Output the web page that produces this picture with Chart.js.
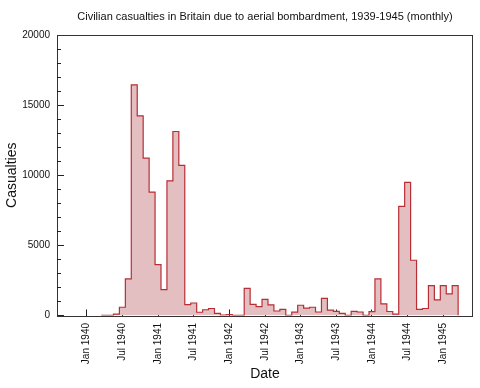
<!DOCTYPE html>
<html>
<head>
<meta charset="utf-8">
<script src="https://cdn.jsdelivr.net/npm/chart.js@4/dist/chart.umd.min.js"></script>
<style>
  html, body { margin: 0; padding: 0; background: #fff; }
  #wrap { width: 480px; height: 388px; }
</style>
</head>
<body>
<div id="wrap"><canvas id="chart"></canvas></div>
<script>
// monthly casualties, Apr 1940 - Mar 1945
const months = [
    'Apr 1940', 'May 1940', 'Jun 1940', 'Jul 1940', 'Aug 1940', 'Sep 1940', 'Oct 1940', 'Nov 1940', 'Dec 1940',
    'Jan 1941', 'Feb 1941', 'Mar 1941', 'Apr 1941', 'May 1941', 'Jun 1941', 'Jul 1941', 'Aug 1941', 'Sep 1941', 'Oct 1941', 'Nov 1941', 'Dec 1941',
    'Jan 1942', 'Feb 1942', 'Mar 1942', 'Apr 1942', 'May 1942', 'Jun 1942', 'Jul 1942', 'Aug 1942', 'Sep 1942', 'Oct 1942', 'Nov 1942', 'Dec 1942',
    'Jan 1943', 'Feb 1943', 'Mar 1943', 'Apr 1943', 'May 1943', 'Jun 1943', 'Jul 1943', 'Aug 1943', 'Sep 1943', 'Oct 1943', 'Nov 1943', 'Dec 1943',
    'Jan 1944', 'Feb 1944', 'Mar 1944', 'Apr 1944', 'May 1944', 'Jun 1944', 'Jul 1944', 'Aug 1944', 'Sep 1944', 'Oct 1944', 'Nov 1944', 'Dec 1944',
    'Jan 1945', 'Feb 1945', 'Mar 1945'
];
const casualties = [
    10, 15, 100, 590, 2610, 16440, 14230, 11220, 8800,
    3630, 1850, 9600, 13120, 10700, 770, 890, 230, 410, 500, 155, 20,
    60, 10, 10, 1940, 800, 630, 1150, 760, 320, 440, 5, 240,
    730, 520, 590, 250, 1220, 390, 300, 155, 5, 290, 250, 5,
    270, 2610, 830, 285, 100, 7780, 9490, 3940, 430, 500, 2135, 1115,
    2135, 1540, 2135
];
const xTickLabels = ['Jan 1940', 'Jul 1940', 'Jan 1941', 'Jul 1941', 'Jan 1942', 'Jul 1942',
    'Jan 1943', 'Jul 1943', 'Jan 1944', 'Jul 1944', 'Jan 1945'];
const xRange = ['Aug 1939', 'Jun 1945'];
const yTicks = [0, 5000, 10000, 15000, 20000];

const monNames = ['Jan', 'Feb', 'Mar', 'Apr', 'May', 'Jun', 'Jul', 'Aug', 'Sep', 'Oct', 'Nov', 'Dec'];
function monthIndex(label) {
    const parts = label.split(' ');
    return (Number(parts[1]) - 1940) * 12 + monNames.indexOf(parts[0]);
}

// histogram-style steps: each month spans half a month either side of its tick
const points = [{ x: monthIndex(months[0]) - 0.5, y: 0 }];
months.forEach((m, i) => points.push({ x: monthIndex(m) - 0.5, y: casualties[i] }));
points.push({ x: monthIndex(months[months.length - 1]) + 0.5, y: 0 });

const FONT = "'Liberation Sans', Arial, Helvetica, sans-serif";

// frame around plot area, drawn under the data
const framePlugin = {
    id: 'frame',
    beforeDatasetsDraw(chart) {
        const a = chart.chartArea, ctx = chart.ctx;
        ctx.save();
        ctx.strokeStyle = '#333';
        ctx.lineWidth = 1;
        ctx.strokeRect(Math.round(a.left) + 0.5, Math.round(a.top) + 0.5,
            Math.round(a.right - a.left) - 1, Math.round(a.bottom - a.top));
        ctx.restore();
    },
    afterDatasetsDraw(chart) {
        // minor ticks on y every 1000
        const y = chart.scales.y, a = chart.chartArea, ctx = chart.ctx;
        ctx.save();
        ctx.strokeStyle = '#222';
        ctx.lineWidth = 1;
        ctx.beginPath();
        for (let v = y.min; v <= y.max; v += 1000) {
            if (v % 5000 === 0) continue;
            const py = Math.round(y.getPixelForValue(v)) + 0.5;
            ctx.moveTo(a.left, py);
            ctx.lineTo(a.left + 4, py);
        }
        ctx.stroke();
        ctx.restore();
    }
};

new Chart(document.getElementById('chart'), {
    type: 'line',
    data: {
        datasets: [{
            data: points,
            stepped: 'before',
            borderColor: 'rgb(185,45,52)',
            borderWidth: 1.2,
            backgroundColor: 'rgb(228,191,193)',
            fill: 'origin',
            pointRadius: 0,
            tension: 0
        }]
    },
    options: {
        responsive: true,
        maintainAspectRatio: false,
        animation: false,
        layout: { padding: { left: 0, right: 7, top: 0, bottom: 0 } },
        plugins: {
            legend: { display: false },
            tooltip: { enabled: false },
            title: {
                display: true,
                fullSize: false,
                text: 'Civilian casualties in Britain due to aerial bombardment, 1939-1945 (monthly)',
                color: '#111',
                font: { family: FONT, size: 11, weight: 'normal' },
                padding: { top: 10, bottom: 11.8 }
            }
        },
        scales: {
            x: {
                type: 'linear',
                z: 1,
                min: monthIndex(xRange[0]),
                max: monthIndex(xRange[1]),
                afterBuildTicks: (scale) => {
                    scale.ticks = xTickLabels.map(l => ({ value: monthIndex(l) }));
                },
                afterFit: (scale) => { scale.height = 72.5; },
                border: { display: false },
                grid: { drawOnChartArea: false, tickLength: -6, tickColor: '#222', tickWidth: 1 },
                ticks: {
                    autoSkip: false,
                    minRotation: 90,
                    maxRotation: 90,
                    padding: 13.5,
                    color: '#111',
                    font: { family: FONT, size: 10 },
                    callback: (v) => {
                        const l = xTickLabels.find(t => monthIndex(t) === v);
                        return l || '';
                    }
                },
                title: {
                    display: true,
                    text: 'Date',
                    color: '#111',
                    font: { family: FONT, size: 14 },
                    padding: { top: 0, bottom: 5.6 }
                }
            },
            y: {
                z: 1,
                min: yTicks[0],
                max: yTicks[yTicks.length - 1],
                afterBuildTicks: (scale) => {
                    scale.ticks = yTicks.map(v => ({ value: v }));
                },
                afterFit: (scale) => { scale.width = 57; },
                border: { display: false },
                grid: { drawOnChartArea: false, tickLength: -7, tickColor: '#222', tickWidth: 1 },
                ticks: {
                    padding: 14,
                    color: '#111',
                    font: { family: FONT, size: 10 },
                    callback: (v) => String(v)
                },
                title: {
                    display: true,
                    text: 'Casualties',
                    color: '#111',
                    font: { family: FONT, size: 14 },
                    padding: { top: 3.3, bottom: 0 }
                }
            }
        }
    },
    plugins: [framePlugin]
});
</script>
</body>
</html>
